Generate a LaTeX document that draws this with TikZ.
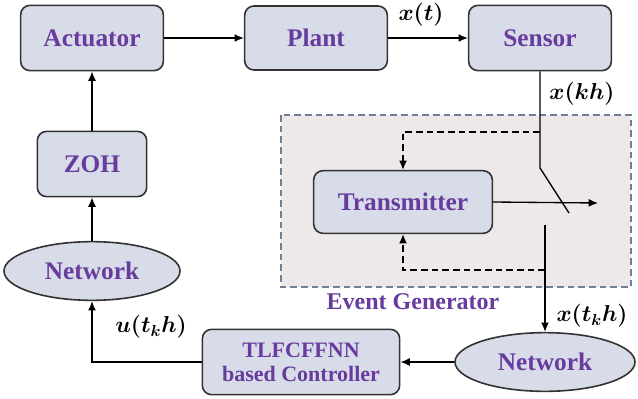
\documentclass[tikz,border=0pt]{standalone}
\usepackage{amsmath,amssymb,bm}
\usepackage{fontspec}
\newfontfamily\boxfont{Liberation Serif}
\usetikzlibrary{shapes.geometric,arrows.meta}
\definecolor{boxfill}{RGB}{216,220,232}
\definecolor{boxtext}{RGB}{104,60,158}
\definecolor{evfill}{RGB}{237,233,233}
\definecolor{evline}{RGB}{110,128,150}
\begin{document}
\begin{tikzpicture}[x=0.75pt,y=0.75pt,yscale=-1,xscale=1,
  blk/.style={draw={rgb,255:red,50;green,50;blue,50},line width=1.2pt,rounded corners=7pt,fill=boxfill,
    text=boxtext,font=\fontsize{19}{21}\boxfont\bfseries,align=center,inner sep=0pt},
  net/.style={ellipse,draw={rgb,255:red,50;green,50;blue,50},line width=1.2pt,fill=boxfill,
    text=boxtext,font=\fontsize{19}{21}\boxfont\bfseries,inner sep=0pt},
  lbl/.style={font=\fontsize{18}{20}\selectfont},
  arr/.style={line width=1pt,-{Latex[length=7pt,width=6pt]}}]
\useasboundingbox (0,0) rectangle (638,399);

%Shape: Rectangle (event generator)
\draw [evline,fill=evfill,dashed,dash pattern=on 5pt off 3pt,line width=0.9pt] (281,115) rectangle (631,287);

% Blocks
\node [blk,minimum width=107pt,minimum height=49pt] (act) at (92,38) {Actuator};
\node [blk,minimum width=107pt,minimum height=48pt] (plant) at (316,38) {Plant};
\node [blk,minimum width=107pt,minimum height=49pt] (sens) at (540,38) {Sensor};
\node [blk,minimum width=82pt,minimum height=49pt] (zoh) at (92,164) {ZOH};
\node [blk,minimum width=134pt,minimum height=47pt] (tx) at (403,202) {Transmitter};
\node [blk,minimum width=148pt,minimum height=49pt,font=\fontsize{16.5}{18}\boxfont\bfseries] (ctrl) at (301,362) {TLFCFFNN\\based Controller};
\node [net,minimum width=132pt,minimum height=44pt] (netl) at (92,271) {Network};
\node [net,minimum width=135pt,minimum height=44pt] (netr) at (545,362) {Network};

% Switch points
\coordinate (tap1) at (540,132);
\coordinate (sw1) at (540,168);
\coordinate (sw2) at (569,213);
\coordinate (txout) at (598,203);
\coordinate (lo) at (545,225);
\coordinate (tap2) at (545,270);

%Straight Lines
\draw [arr] (act) -- (plant);
\draw [arr] (plant) -- (sens);
\draw [line width=1pt] (sens.south) -- (sw1) -- (sw2);
\draw [arr] (tx.east) -- (txout);
\draw [arr] (lo) -- (netr.north);
\draw [arr] (netr.west) -- (ctrl.east);
\draw [arr] (ctrl.west) -| (netl.south);
\draw [arr] (netl.north) -- (zoh.south);
\draw [arr] (zoh.north) -- (act.south);
%Dashed Lines
\draw [arr,dashed,dash pattern=on 5pt off 3pt] (tap1) -| (tx.north);
\draw [arr,dashed,dash pattern=on 5pt off 3pt] (tap2) -| (tx.south);

% Text Node
\node [lbl] (lxt) at (421,15) {$\boldsymbol{x(t)}$};
\node [lbl] (lxkh) at (582,94) {$\boldsymbol{x(kh)}$};
\node [lbl] (lxtk) at (592,316) {$\boldsymbol{x(t_kh)}$};
\node [lbl] (lutk) at (151,327) {$\boldsymbol{u(t_kh)}$};
\node [text=boxtext,font=\fontsize{18}{20}\boxfont\bfseries] (evg) at (413,302) {Event Generator};

\end{tikzpicture}
\end{document}
